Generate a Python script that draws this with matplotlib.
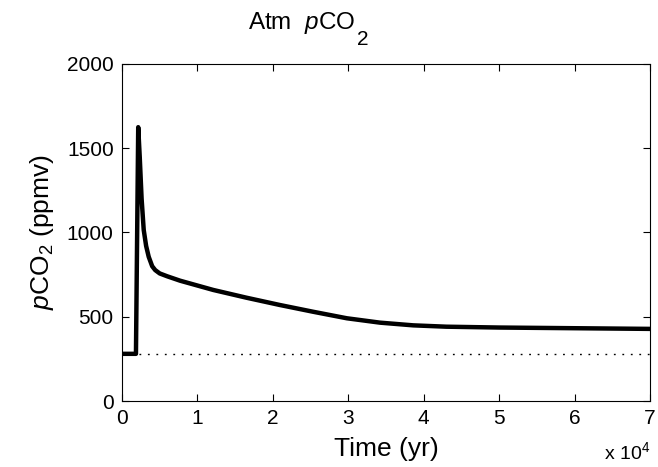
import matplotlib
matplotlib.use("Agg")
import matplotlib.pyplot as plt
from matplotlib.ticker import FuncFormatter

plt.rcParams['font.family'] = ['Liberation Sans', 'DejaVu Sans']
plt.rcParams['mathtext.fontset'] = 'custom'
plt.rcParams['mathtext.rm'] = 'Liberation Sans'
plt.rcParams['mathtext.it'] = 'Liberation Sans:italic'

# time (yr) and atmospheric pCO2 (ppmv)
time_yr = [0, 1850, 2150, 2350, 2600, 2880, 3200, 3540, 4000, 4400, 5000,
           6000, 7700, 12100, 16500, 20900, 25300, 29800, 34200, 38600,
           43000, 50000, 60000, 70000]
pco2 = [280, 280, 1625, 1450, 1200, 1015, 920, 856, 800, 777, 757,
        740, 714, 659, 613, 570, 530, 491, 465, 449,
        441, 436, 432, 428]

# pre-industrial baseline
base_t = [0, 70000]
base_p = [280, 280]

xticks = [0, 10000, 20000, 30000, 40000, 50000, 60000, 70000]
yticks = [0, 500, 1000, 1500, 2000]

W, H = 658, 467
fig = plt.figure(figsize=(W / 100, H / 100), dpi=100)
ax = fig.add_axes([0.1854, 0.1413, 0.8026, 0.7217])

ax.plot(base_t, base_p, color='black', linestyle=(0, (1.3, 4.8)), linewidth=1.0)
ax.plot(time_yr, pco2, color='black', linewidth=3.2, solid_joinstyle='round')

ax.set_xlim(0, 70000)
ax.set_ylim(0, 2000)
ax.set_xticks(xticks)
ax.set_yticks(yticks)
ax.xaxis.set_major_formatter(FuncFormatter(lambda v, p: '%d' % round(v / 1e4)))
ax.tick_params(direction='in', top=True, right=True, length=5, width=0.8,
               labelsize=15, pad=6)
for s in ax.spines.values():
    s.set_linewidth(0.8)

ax.set_xlabel('Time (yr)', fontsize=19, labelpad=6)
ax.set_ylabel('$p$CO$_2$ (ppmv)', fontsize=19, labelpad=8)

# title with a MATLAB-like low subscript
t1 = fig.text(248 / W, 1 - 28.5 / H, 'Atm  $p$CO', fontsize=17.5,
              ha='left', va='baseline')
fig.canvas.draw()
bb = t1.get_window_extent()
fig.text((bb.x1 + 2) / W, 1 - 45 / H, '2', fontsize=15, ha='left', va='baseline')

fig.text(0.988, 0.008, 'x 10$^4$', ha='right', va='bottom', fontsize=14)

fig.savefig('out.png', dpi=100)
